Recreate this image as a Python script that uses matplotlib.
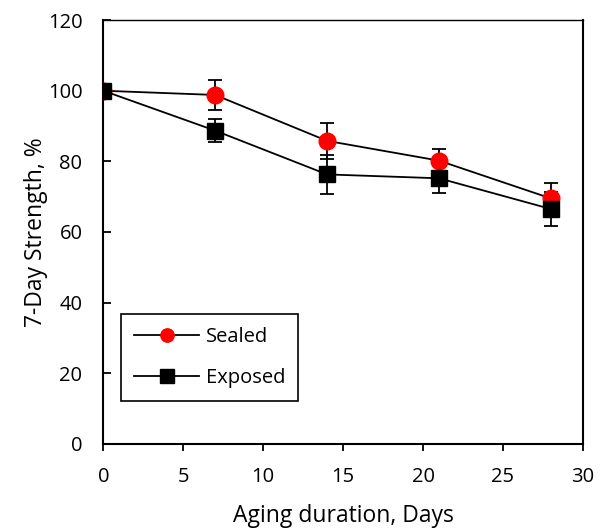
import matplotlib.pyplot as plt

plt.rcParams['font.family'] = ['Open Sans', 'DejaVu Sans']

days = [0, 7, 14, 21, 28]
sealed = [100, 98.8, 85.8, 80.2, 69.5]
sealed_err = [0, 4.3, 5.0, 3.2, 4.5]
exposed = [100, 88.7, 76.3, 75.2, 66.5]
exposed_err = [0, 3.2, 5.5, 4.2, 4.9]

fig = plt.figure(figsize=(6.04, 5.29), dpi=100)
ax = fig.add_axes([0.171, 0.161, 0.794, 0.801])

# error bars first, then lines with markers on top
ax.errorbar(days, sealed, yerr=sealed_err, fmt='none', ecolor='black',
            elinewidth=1.3, capsize=5, capthick=1.3, zorder=2)
ax.errorbar(days, exposed, yerr=exposed_err, fmt='none', ecolor='black',
            elinewidth=1.3, capsize=5, capthick=1.3, zorder=2)
ax.plot(days, sealed, color='black', lw=1.3, marker='o', ms=12,
        mfc='red', mec='red', label='Sealed', zorder=3)
ax.plot(days, exposed, color='black', lw=1.3, marker='s', ms=12,
        mfc='black', mec='black', label='Exposed', zorder=4)

ax.set_xlim(0, 30)
ax.set_ylim(0, 120)
ax.set_xticks(range(0, 31, 5))
ax.set_yticks(range(0, 121, 20))
ax.tick_params(axis='y', direction='in', length=6, width=1.3, labelsize=14.5, pad=15)
ax.tick_params(axis='x', direction='out', length=5, width=1.3, labelsize=14.5, pad=12)
for s in ax.spines.values():
    s.set_linewidth(1.5)
ax.spines['top'].set_linewidth(1.0)

ax.set_xlabel('Aging duration, Days', fontsize=16.5, labelpad=12)
ax.set_ylabel('7-Day Strength, %', fontsize=16.5, labelpad=0)

leg = ax.legend(loc='lower left', bbox_to_anchor=(0.0375, 0.101), fontsize=14.5,
                fancybox=False, edgecolor='black', framealpha=1,
                handlelength=3.2, borderpad=0.65, labelspacing=1.05,
                handletextpad=0.35, borderaxespad=0, markerscale=0.8)
leg.get_frame().set_linewidth(1.2)

fig.savefig('out.png', dpi=100)
